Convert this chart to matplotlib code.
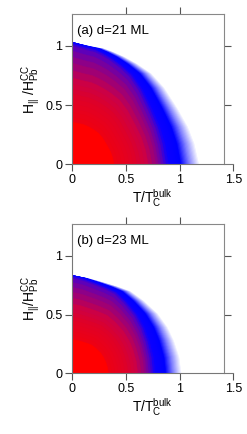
import numpy as np
import matplotlib
matplotlib.use('Agg')
import matplotlib.pyplot as plt

plt.rcParams['font.family'] = ['Liberation Sans', 'DejaVu Sans']
plt.rcParams['mathtext.fontset'] = 'custom'
plt.rcParams['mathtext.rm'] = 'Liberation Sans'
plt.rcParams['mathtext.it'] = 'Liberation Sans:italic'

# Outer phase boundary, panel (a) d=21 ML
t_a = [0.0, 0.07, 0.17, 0.29, 0.38, 0.48, 0.60, 0.73, 0.85, 0.97, 1.07, 1.13, 1.16, 1.175]
h_a = [1.035, 1.02, 1.00, 0.98, 0.95, 0.91, 0.85, 0.77, 0.65, 0.48, 0.32, 0.18, 0.06, 0.0]

# Outer phase boundary, panel (b) d=23 ML
t_b = [0.0, 0.03, 0.14, 0.29, 0.42, 0.54, 0.66, 0.79, 0.88, 0.94, 0.99, 1.01]
h_b = [0.835, 0.833, 0.814, 0.776, 0.74, 0.70, 0.62, 0.51, 0.395, 0.28, 0.14, 0.0]

# Nested contours: fraction of outer T extent and of outer H extent
layer_t = [1.0, 0.99, 0.98, 0.97, 0.96, 0.95, 0.94, 0.93, 0.92, 0.91, 0.90,
           0.89, 0.88, 0.87, 0.86, 0.85, 0.84, 0.83, 0.82, 0.81, 0.80,
           0.78, 0.76, 0.74, 0.72, 0.70, 0.68, 0.66, 0.63, 0.60, 0.57, 0.54,
           0.51, 0.48, 0.45, 0.42, 0.39, 0.36, 0.33]
layer_h = [1.0, 1.0, 1.0, 1.0, 1.0, 1.0, 1.0, 1.0, 1.0, 1.0, 1.0,
           1.0, 1.0, 1.0, 1.0, 1.0, 1.0, 1.0, 1.0, 1.0, 1.0,
           0.995, 0.99, 0.985, 0.97, 0.93, 0.88, 0.83, 0.77, 0.71, 0.66, 0.62,
           0.58, 0.54, 0.50, 0.46, 0.43, 0.39, 0.35]

panel_text = ['(a) d=21 ML', '(b) d=23 ML']
ylabels = [r'$\mathregular{H_{||}\ /H_{Pb}^{CC}}$', r'$\mathregular{H_{||}/H_{Pb}^{CC}}$']

# colour ramp red -> purple -> blue -> white edge
c_pos = [0.0, 0.33, 0.36, 0.50, 0.60, 0.67, 0.72, 0.77, 0.86, 0.93, 1.0]
c_rgb = [(1, 0, 0), (1, 0, 0), (0.93, 0, 0.08), (0.88, 0, 0.15), (0.8, 0, 0.27),
         (0.6, 0, 0.48), (0.37, 0, 0.72), (0.05, 0, 1), (0, 0, 1), (0.5, 0.5, 1),
         (0.93, 0.93, 1)]


def layer_color(f):
    return tuple(np.interp(f, c_pos, [c[i] for c in c_rgb]) for i in range(3))


def draw_panel(ax, t_out, h_out, text, ylab):
    t_out = np.array(t_out)
    h_out = np.array(h_out)
    tmax, hmax = t_out[-1], h_out[0]
    T = np.linspace(0, tmax, 800)
    H_out = np.interp(T, t_out, h_out)
    for ft, fh in zip(layer_t, layer_h):
        a = ft * tmax
        b = fh * hmax
        H = b * np.interp(T / a, t_out / tmax, h_out / hmax, right=0)
        H = np.minimum(H, H_out)
        c = layer_color(ft)
        ax.fill_between(T, 0, H, facecolor=c, edgecolor=c, lw=0.3)

    ax.set_xlim(0, 1.5)
    ax.set_ylim(0, 1.27)
    ax.set_xticks([0, 0.5, 1, 1.5])
    ax.set_xticklabels(['0', '0.5', '1', '1.5'])
    ax.set_yticks([0, 0.5, 1])
    ax.set_yticklabels(['0', '0.5', '1'])
    ax.tick_params(direction='out', length=5, width=0.8, color='#555555',
                   labelsize=9, pad=2)
    for s in ['left', 'bottom']:
        ax.spines[s].set_color('#777777')
        ax.spines[s].set_linewidth(0.8)
    ax.spines['right'].set_visible(False)
    ax.spines['top'].set_bounds(0, 1.41)
    ax.spines['top'].set_color('#888888')
    ax.spines['top'].set_linewidth(0.8)

    sy = ax.secondary_yaxis(1.41 / 1.5)
    sy.set_yticks([0.5, 1])
    sy.tick_params(direction='out', length=5, width=0.8, color='#555555', labelright=False)
    sy.spines['right'].set_color('#888888')
    sy.spines['right'].set_linewidth(0.8)

    sx = ax.secondary_xaxis('top')
    sx.set_xticks([0.5, 1])
    sx.tick_params(direction='out', length=5, width=0.8, color='#555555', labeltop=False)
    sx.spines['top'].set_visible(False)

    ax.text(0.03, 0.885, text, transform=ax.transAxes, fontsize=9.5, va='center')
    ax.set_xlabel(r'$\mathregular{T/T_C^{bulk}}$', fontsize=10, labelpad=1)
    ax.set_ylabel(ylab, fontsize=10, labelpad=2)


fig = plt.figure(figsize=(2.47, 4.34), dpi=100)
ax1 = fig.add_axes([0.2915, 0.621, 0.653, 0.3468])
ax2 = fig.add_axes([0.2915, 0.1399, 0.653, 0.3433])
draw_panel(ax1, t_a, h_a, panel_text[0], ylabels[0])
draw_panel(ax2, t_b, h_b, panel_text[1], ylabels[1])

fig.savefig('out.png', dpi=100)
